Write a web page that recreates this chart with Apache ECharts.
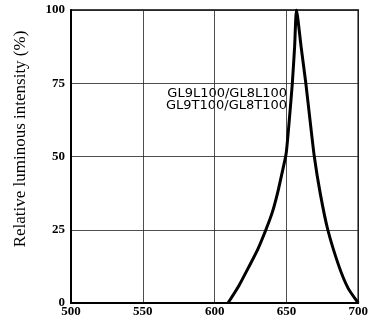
<!DOCTYPE html>
<html>
<head>
<meta charset="utf-8">
<script src="https://cdn.jsdelivr.net/npm/echarts@6/dist/echarts.min.js"></script>
<style>
  html, body { margin: 0; padding: 0; background: #fff; }
  #chart { width: 371px; height: 321px; }
</style>
</head>
<body>
<div id="chart"></div>
<script>
// Spectral emission curve (wavelength in nm, relative intensity in %)
const wavelengths = [609.3, 617, 624, 630.2, 635.7, 640.2, 643.8, 647, 649.8, 652, 654.1, 655.7, 657, 660.2, 663.5, 666.4, 669.4, 673.5, 678.8, 686.6, 693, 700];
const intensity   = [0,     6,   12.5, 18.5,  25,    31,    37.5,  44.5, 51,   62.5, 75,   87.5,  100, 87.5,  75,    62.5,  50,    37.5,  25,    12.5,  5,   0];
const xTicks = [500, 550, 600, 650, 700];
const yTicks = [0, 25, 50, 75, 100];
const modelLines = ['GL9L100/GL8L100', 'GL9T100/GL8T100'];
const yTitle = 'Relative luminous intensity (%)';

const points = wavelengths.map((w, i) => [w, intensity[i]]);

const chart = echarts.init(document.getElementById('chart'), null, { renderer: 'canvas' });
chart.setOption({
  animation: false,
  backgroundColor: '#fff',
  grid: { left: 71, right: 9, top: 10, bottom: 18, show: true, borderColor: '#000', borderWidth: 1.5 },
  xAxis: {
    type: 'value',
    min: xTicks[0], max: xTicks[xTicks.length - 1], interval: 50,
    axisLine: { show: true, lineStyle: { color: '#000', width: 2 } },
    axisTick: { show: false },
    splitLine: { show: true, lineStyle: { color: '#222', width: 0.8 } },
    axisLabel: { color: '#000', fontFamily: 'Liberation Serif', fontWeight: 'bold', fontSize: 13, margin: 2 }
  },
  yAxis: {
    type: 'value',
    min: yTicks[0], max: yTicks[yTicks.length - 1], interval: 25,
    axisLine: { show: true, lineStyle: { color: '#000', width: 2 } },
    axisTick: { show: false },
    splitLine: { show: true, lineStyle: { color: '#222', width: 0.8 } },
    axisLabel: { color: '#000', fontFamily: 'Liberation Serif', fontWeight: 'bold', fontSize: 13, margin: 6 }
  },
  graphic: [{
    type: 'text', x: 21, y: 139, rotation: Math.PI / 2,
    style: { text: yTitle, fill: '#000', font: '17px "Liberation Serif"', textAlign: 'center', textVerticalAlign: 'middle' }
  }, {
    type: 'text', x: 287, y: 87,
    style: { text: modelLines.join('\n'), fill: '#000', font: '13px "DejaVu Sans"', textAlign: 'right', lineHeight: 12.5 }
  }],
  series: [{
    type: 'line',
    data: points,
    smooth: 0.2,
    symbol: 'none',
    lineStyle: { color: '#000', width: 3 }
  }]
});
</script>
</body>
</html>
